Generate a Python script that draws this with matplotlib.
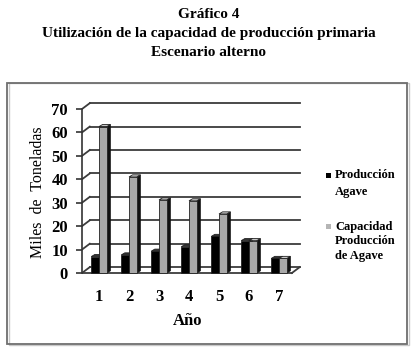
import matplotlib.pyplot as plt
from matplotlib.patches import Rectangle, Polygon

# data (miles de toneladas)
years = [1, 2, 3, 4, 5, 6, 7]
produccion = [7.0, 7.7, 9.3, 11.2, 15.6, 13.8, 6.2]
capacidad = [62.5, 41.0, 31.2, 30.8, 25.2, 13.8, 6.2]
yticks = [0, 10, 20, 30, 40, 50, 60, 70]

W, H = 417, 355
plt.rcParams['font.family'] = ['Liberation Serif', 'DejaVu Serif']

fig = plt.figure(figsize=(W / 100, H / 100), dpi=100)

def fx(px):
    return px / W

def fy(py):
    return 1 - py / H

# outer frame of the chart
fig.patches.append(Rectangle((fx(8.5), fy(345)), fx(400), 262 / H,
                             transform=fig.transFigure, fill=False,
                             edgecolor='#c8c8c8', lw=1.0))
fig.patches.append(Rectangle((fx(7), fy(344)), fx(400), 261 / H,
                             transform=fig.transFigure, fill=False,
                             edgecolor='#6e6e6e', lw=1.3))

# titles
fig.text(0.5, fy(14), 'Gráfico 4', ha='center', va='center',
         fontsize=11, fontweight='bold')
fig.text(0.5, fy(33), 'Utilización de la capacidad de producción primaria',
         ha='center', va='center', fontsize=11, fontweight='bold')
fig.text(0.5, fy(53), 'Escenario alterno', ha='center', va='center',
         fontsize=11, fontweight='bold')

# plot area
x0, x1 = 0.433, 7.43
ax = fig.add_axes([fx(82), fy(276.5), 219.5 / W, 175.7 / H])
ax.set_xlim(x0, 7.75)
ax.set_ylim(-1.5, 73.5)

dx, dy = 0.26, 2.5      # depth of the 3D box
sx, sy = 0.12, 0.9      # depth of the bars

# back wall gridlines + side wall segments
grid_c = '#3c3c3c'
for v in yticks:
    ax.plot([x0 + dx, x1 + dx], [v + dy, v + dy], color=grid_c, lw=1.3, zorder=1)
    ax.plot([x0, x0 + dx], [v, v + dy], color=grid_c, lw=1.3, zorder=1)
# floor
ax.plot([x0, x1], [0, 0], color=grid_c, lw=1.3, zorder=1)
ax.plot([x1, x1 + dx], [0, dy], color=grid_c, lw=1.3, zorder=1)

def bar3d(left, width, h, front, side, top):
    ax.add_patch(Polygon([(left + width, 0), (left + width + sx, sy),
                          (left + width + sx, h + sy), (left + width, h)],
                         closed=True, facecolor=side, edgecolor=side, lw=0.5, zorder=3))
    ax.add_patch(Polygon([(left, h), (left + sx, h + sy),
                          (left + width + sx, h + sy), (left + width, h)],
                         closed=True, facecolor=top, edgecolor='#222222', lw=0.6, zorder=3))
    ax.add_patch(Rectangle((left, 0), width, h, facecolor=front,
                           edgecolor='#222222', lw=0.6, zorder=3))

bw = 0.26
for x, p, c in zip(years, produccion, capacidad):
    bar3d(x - bw, bw, p, 'black', 'black', '#333333')
    bar3d(x, bw, c, '#a9a9a9', '#111111', '#c8c8c8')

# front value axis
for s in ['top', 'right', 'bottom']:
    ax.spines[s].set_visible(False)
ax.spines['left'].set_bounds(0, 70)
ax.spines['left'].set_color('#333333')
ax.spines['left'].set_linewidth(1.2)
ax.set_yticks(yticks)
ax.set_yticklabels([str(v) for v in yticks], fontsize=12, fontweight='bold')
ax.tick_params(axis='y', length=4, width=1.2, color='#333333', pad=6)
ax.set_xticks(years)
ax.set_xticklabels([str(v) for v in years], fontsize=12, fontweight='bold')
ax.tick_params(axis='x', length=0, pad=9)
ax.patch.set_visible(False)

fig.text(fx(188), fy(321), 'Año', ha='center', va='center',
         fontsize=12, fontweight='bold')
fig.text(fx(38), fy(192), 'Miles  de  Toneladas', ha='center', va='center',
         rotation=90, fontsize=11.5)

# legend
fig.patches.append(Rectangle((fx(326), fy(178)), fx(5), 5 / H,
                             transform=fig.transFigure, facecolor='black',
                             edgecolor='none'))
fig.patches.append(Rectangle((fx(326), fy(229)), fx(5), 5 / H,
                             transform=fig.transFigure, facecolor='#b5b5b5',
                             edgecolor='none'))
leg_text = [('Producción', 175), ('Agave', 192),
            ('Capacidad', 227), ('Producción', 241), ('de Agave', 256)]
for txt, yy in leg_text:
    fig.text(fx(335), fy(yy), txt, ha='left', va='center',
             fontsize=9, fontweight='bold')

fig.savefig('out.png', dpi=100)
